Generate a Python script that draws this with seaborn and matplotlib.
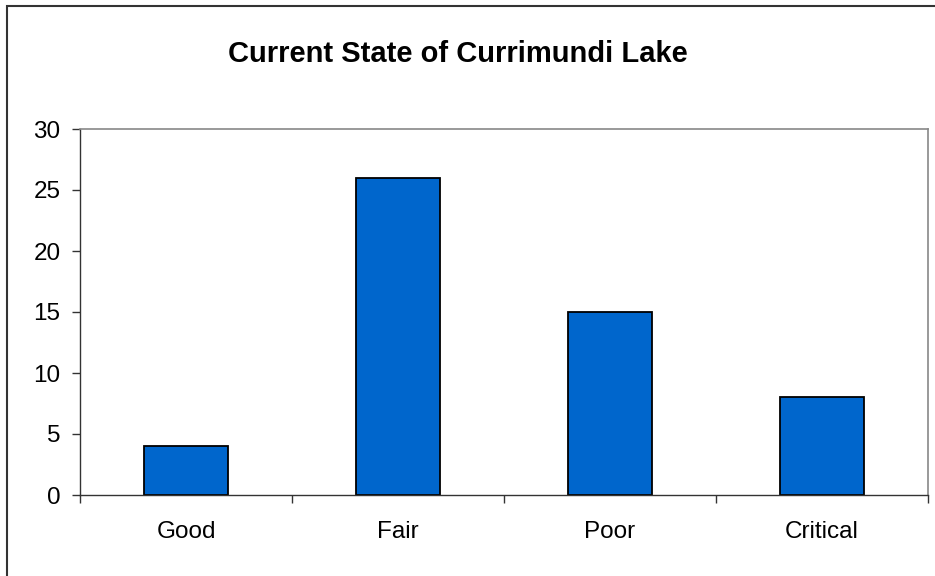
import matplotlib
matplotlib.use('Agg')

import matplotlib.pyplot as plt
import matplotlib.patches as mpatches
import seaborn as sns
import pandas as pd

categories = ["Good", "Fair", "Poor", "Critical"]
counts = [4, 26, 15, 8]
y_ticks = [0, 5, 10, 15, 20, 25, 30]

sns.set_style("white")
plt.rcParams['font.family'] = ['Liberation Sans', 'DejaVu Sans']
plt.rcParams['text.color'] = 'black'
plt.rcParams['xtick.labelcolor'] = 'black'
plt.rcParams['ytick.labelcolor'] = 'black'

df = pd.DataFrame({"state": categories, "count": counts})

fig = plt.figure(figsize=(9.35, 5.76), dpi=100)
ax = fig.add_axes([80 / 935, 81 / 576, 848 / 935, 366 / 576])

sns.barplot(data=df, x="state", y="count", color="#0066CC", width=0.4,
            edgecolor="black", linewidth=1.3, saturation=1, ax=ax)

ax.set_ylim(0, 30)
ax.set_xlim(-0.5, len(categories) - 0.5)
ax.set_yticks(y_ticks)
ax.set_xlabel("")
ax.set_ylabel("")

# category boundary ticks like the spreadsheet chart
ax.set_xticks([i - 0.5 for i in range(len(categories) + 1)], minor=True)
ax.tick_params(axis="x", which="major", length=0, pad=19, labelsize=17.5)
ax.tick_params(axis="x", which="minor", length=6, width=1, color="#333333",
               direction="out", bottom=True)
ax.tick_params(axis="y", length=6, width=1, color="#333333", direction="out",
               pad=8, labelsize=17.5, left=True)

for side in ["left", "bottom"]:
    ax.spines[side].set_color("#333333")
    ax.spines[side].set_linewidth(1)
for side in ["top", "right"]:
    ax.spines[side].set_visible(True)
    ax.spines[side].set_color("#888888")
    ax.spines[side].set_linewidth(1.2)

fig.text(458 / 935, 1 - 54 / 576, "Current State of Currimundi Lake",
         ha="center", va="center", fontsize=21, fontweight="bold", color="black")

# outer chart border
border = mpatches.Rectangle((7 / 935, -0.05), 1.2, 1.05 - 6 / 576,
                            transform=fig.transFigure, fill=False,
                            edgecolor="#333333", linewidth=1.5)
fig.patches.append(border)

fig.savefig("out.png", dpi=100)
plt.close(fig)
